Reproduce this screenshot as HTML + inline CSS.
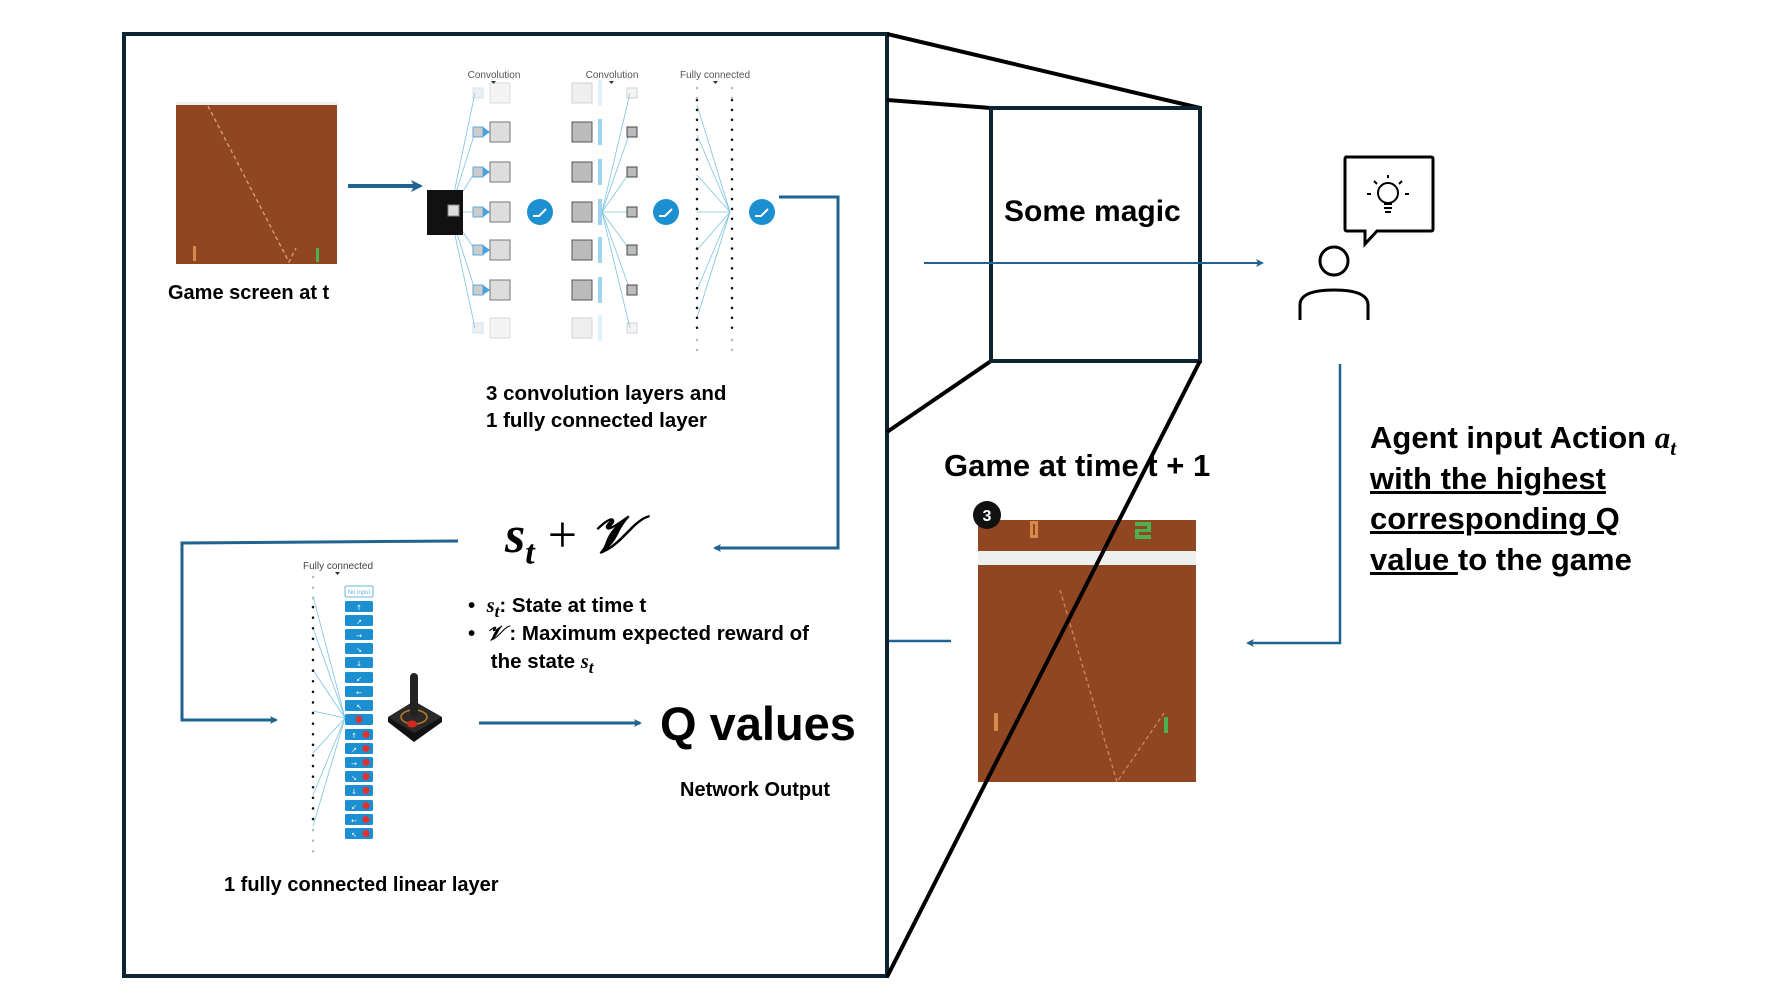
<!DOCTYPE html>
<html><head><meta charset="utf-8"><style>
html,body{margin:0;padding:0;background:#fff;}
body{width:1778px;height:1000px;overflow:hidden;position:relative;font-family:"Liberation Sans",sans-serif;}
.t{position:absolute;white-space:nowrap;color:#000;}
sub{line-height:0;}
</style></head><body>
<svg width="1778" height="1000" style="position:absolute;left:0;top:0" xmlns="http://www.w3.org/2000/svg">
<defs>
<marker id="ah" markerWidth="8" markerHeight="8" refX="6" refY="4" orient="auto" markerUnits="userSpaceOnUse"><path d="M0,0 L8,4 L0,8 L2,4 Z" fill="#1f6390"/></marker>
<marker id="ah2" markerWidth="12" markerHeight="12" refX="9" refY="6" orient="auto" markerUnits="userSpaceOnUse"><path d="M0,0 L12,6 L0,12 L3,6 Z" fill="#1f6390"/></marker>
</defs>
<!-- main box -->
<rect x="124" y="34" width="763" height="942" fill="none" stroke="#0d2433" stroke-width="4"/>
<g transform="translate(-6,0)">
<g stroke="#000" stroke-width="4" fill="none">
<line x1="893" y1="34" x2="1206" y2="108"/>
<line x1="893" y1="100" x2="997" y2="108"/>
<line x1="997" y1="361" x2="893" y2="432"/>
</g>
<rect x="997" y="108" width="209" height="253" fill="none" stroke="#0d2433" stroke-width="4"/>
<line x1="930" y1="263" x2="1268" y2="263" stroke="#1f6390" stroke-width="2" marker-end="url(#ah)"/>
<polyline points="1346,364 1346,643 1254,643" fill="none" stroke="#1f6390" stroke-width="2.5" marker-end="url(#ah)"/>
<line x1="895" y1="641" x2="957" y2="641" stroke="#1f6390" stroke-width="2.5"/>
<!-- speech bubble & person -->
<path d="M1351,157 H1437 Q1439,157 1439,159 V229 Q1439,231 1437,231 H1383 L1371,244 L1371,231 H1353 Q1351,231 1351,229 V159 Q1351,157 1353,157Z" fill="#fff" stroke="#000" stroke-width="3"/>
<circle cx="1394" cy="193" r="10" fill="none" stroke="#000" stroke-width="2"/>
<g stroke="#000" stroke-width="2"><line x1="1390" y1="204" x2="1398" y2="204"/><line x1="1390" y1="208" x2="1398" y2="208"/><line x1="1391" y1="212" x2="1397" y2="212"/><line x1="1394" y1="175" x2="1394" y2="178"/><line x1="1380" y1="181" x2="1383" y2="184"/><line x1="1408" y1="181" x2="1405" y2="184"/><line x1="1373" y1="194" x2="1377" y2="194"/><line x1="1411" y1="194" x2="1415" y2="194"/></g>
<circle cx="1340" cy="261" r="14" fill="none" stroke="#000" stroke-width="3"/>
<path d="M1306,320 V305 Q1306,290 1340,290 Q1374,290 1374,305 V320" fill="none" stroke="#000" stroke-width="3"/>
<!-- game t+1 -->
<rect x="984" y="520" width="218" height="31" fill="#8f4621"/>
<rect x="984" y="551" width="218" height="14" fill="#eef0f0"/>
<rect x="984" y="565" width="218" height="217" fill="#8f4621"/>
<path d="M1036,521 h8 v17 h-8z M1039,524 v11 h2 v-11z" fill="#d98a4a" fill-rule="evenodd"/>
<path d="M1141,522 h16 v10 h-12 v3 h12 v4 h-16 v-10 h12 v-3 h-12z" fill="#4cb04c"/>
<path d="M1066,590 L1123,782 L1170,713" stroke="#c98a5e" stroke-width="1.3" stroke-dasharray="4,3" fill="none"/>
<rect x="1000" y="713" width="4" height="18" fill="#d98a4a"/>
<rect x="1170" y="717" width="4" height="16" fill="#4cb04c"/>
<line x1="1206" y1="361" x2="893" y2="977" stroke="#000" stroke-width="4"/>
<circle cx="993" cy="515" r="14" fill="#111"/>
<text x="993" y="521" font-size="16" font-weight="bold" fill="#fff" text-anchor="middle" font-family="Liberation Sans">3</text>
</g>

<!-- game screen t -->
<rect x="176" y="104" width="161" height="160" fill="#8f4621"/>
<rect x="176" y="102" width="161" height="3" fill="#eee"/>
<path d="M208,106 L289,262 L296,248" stroke="#d9a27a" stroke-width="1.3" stroke-dasharray="4,3" fill="none"/>
<rect x="193" y="246" width="3" height="15" fill="#d98a4a"/>
<rect x="316" y="248" width="3" height="14" fill="#4cb04c"/>
<line x1="348" y1="186" x2="420" y2="186" stroke="#1f6390" stroke-width="4" marker-end="url(#ah2)"/>

<!-- CNN -->
<g font-family="Liberation Sans" font-size="10" fill="#555" text-anchor="middle">
<text x="494" y="78">Convolution</text><text x="612" y="78">Convolution</text><text x="715" y="78">Fully connected</text>
</g>
<g fill="#333"><path d="M491,81 h5 l-2.5,3z"/><path d="M609,81 h5 l-2.5,3z"/><path d="M713,81 h5 l-2.5,3z"/></g>
<g stroke="#7cc3e0" stroke-width="0.8" fill="none">
<line x1="450" y1="212" x2="475" y2="93"/><line x1="450" y1="212" x2="475" y2="132"/><line x1="450" y1="212" x2="475" y2="172"/><line x1="450" y1="212" x2="475" y2="212"/><line x1="450" y1="212" x2="475" y2="250"/><line x1="450" y1="212" x2="475" y2="290"/><line x1="450" y1="212" x2="475" y2="328"/>
<line x1="602" y1="212" x2="630" y2="93"/><line x1="602" y1="212" x2="630" y2="132"/><line x1="602" y1="212" x2="630" y2="172"/><line x1="602" y1="212" x2="630" y2="212"/><line x1="602" y1="212" x2="630" y2="250"/><line x1="602" y1="212" x2="630" y2="290"/><line x1="602" y1="212" x2="630" y2="328"/>
<line x1="730" y1="212" x2="697" y2="105"/><line x1="730" y1="212" x2="697" y2="135"/><line x1="730" y1="212" x2="697" y2="175"/><line x1="730" y1="212" x2="697" y2="212"/><line x1="730" y1="212" x2="697" y2="250"/><line x1="730" y1="212" x2="697" y2="290"/><line x1="730" y1="212" x2="697" y2="318"/>
</g>
<rect x="427" y="190" width="36" height="45" fill="#111"/>
<rect x="448" y="205" width="11" height="11" fill="#ddd" stroke="#888"/>
<g>
<g opacity="0.3"><rect x="473" y="88" width="10" height="10" fill="#ccc" stroke="#5aa9dd"/><rect x="490" y="83" width="20" height="20" fill="#ddd" stroke="#888"/><rect x="572" y="83" width="20" height="20" fill="#ccc" stroke="#666"/><rect x="598" y="80" width="4" height="26" fill="#9fd3ee"/><rect x="627" y="88" width="10" height="10" fill="#ddd" stroke="#666"/></g>
<g><rect x="473" y="127" width="10" height="10" fill="#ccc" stroke="#5aa9dd"/><path d="M483,127 L490,132 L483,137z" fill="#4aa3e0"/><rect x="490" y="122" width="20" height="20" fill="#ddd" stroke="#777"/><rect x="572" y="122" width="20" height="20" fill="#bbb" stroke="#555"/><rect x="598" y="119" width="4" height="26" fill="#9fd3ee"/><rect x="627" y="127" width="10" height="10" fill="#bbb" stroke="#444"/></g>
<g><rect x="473" y="167" width="10" height="10" fill="#ccc" stroke="#5aa9dd"/><path d="M483,167 L490,172 L483,177z" fill="#4aa3e0"/><rect x="490" y="162" width="20" height="20" fill="#ddd" stroke="#777"/><rect x="572" y="162" width="20" height="20" fill="#bbb" stroke="#555"/><rect x="598" y="159" width="4" height="26" fill="#9fd3ee"/><rect x="627" y="167" width="10" height="10" fill="#bbb" stroke="#444"/></g>
<g><rect x="473" y="207" width="10" height="10" fill="#ccc" stroke="#5aa9dd"/><path d="M483,207 L490,212 L483,217z" fill="#4aa3e0"/><rect x="490" y="202" width="20" height="20" fill="#ddd" stroke="#777"/><rect x="572" y="202" width="20" height="20" fill="#bbb" stroke="#555"/><rect x="598" y="199" width="4" height="26" fill="#9fd3ee"/><rect x="627" y="207" width="10" height="10" fill="#bbb" stroke="#444"/></g>
<g><rect x="473" y="245" width="10" height="10" fill="#ccc" stroke="#5aa9dd"/><path d="M483,245 L490,250 L483,255z" fill="#4aa3e0"/><rect x="490" y="240" width="20" height="20" fill="#ddd" stroke="#777"/><rect x="572" y="240" width="20" height="20" fill="#bbb" stroke="#555"/><rect x="598" y="237" width="4" height="26" fill="#9fd3ee"/><rect x="627" y="245" width="10" height="10" fill="#bbb" stroke="#444"/></g>
<g><rect x="473" y="285" width="10" height="10" fill="#ccc" stroke="#5aa9dd"/><path d="M483,285 L490,290 L483,295z" fill="#4aa3e0"/><rect x="490" y="280" width="20" height="20" fill="#ddd" stroke="#777"/><rect x="572" y="280" width="20" height="20" fill="#bbb" stroke="#555"/><rect x="598" y="277" width="4" height="26" fill="#9fd3ee"/><rect x="627" y="285" width="10" height="10" fill="#bbb" stroke="#444"/></g>
<g opacity="0.3"><rect x="473" y="323" width="10" height="10" fill="#ccc" stroke="#5aa9dd"/><rect x="490" y="318" width="20" height="20" fill="#ddd" stroke="#888"/><rect x="572" y="318" width="20" height="20" fill="#ccc" stroke="#666"/><rect x="598" y="315" width="4" height="26" fill="#9fd3ee"/><rect x="627" y="323" width="10" height="10" fill="#ddd" stroke="#666"/></g>
</g>
<g fill="#1b8fd0"><circle cx="540" cy="212" r="13"/><circle cx="666" cy="212" r="13"/><circle cx="762" cy="212" r="13"/></g>
<g stroke="#fff" stroke-width="2" fill="none"><path d="M533,216 h6 l7,-7"/><path d="M659,216 h6 l7,-7"/><path d="M755,216 h6 l7,-7"/></g>
<g stroke="#111" stroke-width="2.5" stroke-dasharray="0.1,9.8" stroke-linecap="round">
<line x1="697" y1="100" x2="697" y2="335"/><line x1="732" y1="100" x2="732" y2="335"/>
</g>
<g stroke="#bbb" stroke-width="2.5" stroke-dasharray="0.1,9.8" stroke-linecap="round">
<line x1="697" y1="88" x2="697" y2="98"/><line x1="732" y1="88" x2="732" y2="98"/><line x1="697" y1="340" x2="697" y2="352"/><line x1="732" y1="340" x2="732" y2="352"/>
</g>

<!-- connectors -->
<polyline points="779,197 838,197 838,548 715,548" fill="none" stroke="#1f6390" stroke-width="3" marker-end="url(#ah)"/>
<polyline points="458,541 182,543 182,720 276,720" fill="none" stroke="#1f6390" stroke-width="3" marker-end="url(#ah)"/>
<line x1="479" y1="723" x2="640" y2="723" stroke="#1f6390" stroke-width="3" marker-end="url(#ah)"/>

<!-- FC2 -->
<text x="338" y="569" font-family="Liberation Sans" font-size="10" fill="#444" text-anchor="middle">Fully connected</text>
<path d="M335,572 h5 l-2.5,3z" fill="#333"/>
<g stroke="#7cc3e0" stroke-width="0.8">
<line x1="345" y1="718" x2="313" y2="596"/><line x1="345" y1="718" x2="313" y2="628"/><line x1="345" y1="718" x2="313" y2="670"/><line x1="345" y1="718" x2="313" y2="711"/><line x1="345" y1="718" x2="313" y2="753"/><line x1="345" y1="718" x2="313" y2="795"/><line x1="345" y1="718" x2="313" y2="826"/>
</g>
<g stroke="#111" stroke-width="2.5" stroke-dasharray="0.1,10.5" stroke-linecap="round"><line x1="313" y1="607" x2="313" y2="820"/></g>
<g stroke="#bbb" stroke-width="2.5" stroke-dasharray="0.1,10.5" stroke-linecap="round"><line x1="313" y1="577" x2="313" y2="600"/><line x1="313" y1="830" x2="313" y2="858"/></g>
<rect x="345" y="586" width="28" height="11" rx="1.5" fill="#fff" stroke="#69b6e3"/>
<text x="359" y="594" font-size="6" fill="#69b6e3" text-anchor="middle" font-family="Liberation Sans">No input</text>
<g fill="#1b8fd0">
<rect x="345" y="601" width="28" height="11" rx="1.5"/><rect x="345" y="615" width="28" height="11" rx="1.5"/><rect x="345" y="629" width="28" height="11" rx="1.5"/><rect x="345" y="643" width="28" height="11" rx="1.5"/><rect x="345" y="657" width="28" height="11" rx="1.5"/><rect x="345" y="672" width="28" height="11" rx="1.5"/><rect x="345" y="686" width="28" height="11" rx="1.5"/><rect x="345" y="700" width="28" height="11" rx="1.5"/><rect x="345" y="714" width="28" height="11" rx="1.5"/><rect x="345" y="729" width="28" height="11" rx="1.5"/><rect x="345" y="743" width="28" height="11" rx="1.5"/><rect x="345" y="757" width="28" height="11" rx="1.5"/><rect x="345" y="771" width="28" height="11" rx="1.5"/><rect x="345" y="785" width="28" height="11" rx="1.5"/><rect x="345" y="800" width="28" height="11" rx="1.5"/><rect x="345" y="814" width="28" height="11" rx="1.5"/><rect x="345" y="828" width="28" height="11" rx="1.5"/>
</g>
<g fill="#e53030"><circle cx="359" cy="719.5" r="3.5"/><circle cx="366" cy="734.5" r="3.5"/><circle cx="366" cy="748.5" r="3.5"/><circle cx="366" cy="762.5" r="3.5"/><circle cx="366" cy="776.5" r="3.5"/><circle cx="366" cy="790.5" r="3.5"/><circle cx="366" cy="805.5" r="3.5"/><circle cx="366" cy="819.5" r="3.5"/><circle cx="366" cy="833.5" r="3.5"/></g>
<g fill="#fff" font-size="7" font-family="DejaVu Sans" text-anchor="middle">
<text x="359" y="610">↑</text><text x="359" y="624">↗</text><text x="359" y="638">→</text><text x="359" y="652">↘</text><text x="359" y="666">↓</text><text x="359" y="681">↙</text><text x="359" y="695">←</text><text x="359" y="709">↖</text>
<text x="354" y="738">↑</text><text x="354" y="752">↗</text><text x="354" y="766">→</text><text x="354" y="780">↘</text><text x="354" y="794">↓</text><text x="354" y="809">↙</text><text x="354" y="823">←</text><text x="354" y="837">↖</text>
</g>
<!-- joystick -->
<path d="M388,717 L414,701 L442,717 L414,741 Z" fill="#2a2a2a"/>
<path d="M388,717 L414,733 L442,717 L442,722 L414,742 L388,722Z" fill="#111"/>
<ellipse cx="414" cy="717" rx="13" ry="7" fill="none" stroke="#c07a20" stroke-width="1.5"/>
<rect x="410" y="673" width="8" height="44" rx="4" fill="#222"/>
<ellipse cx="412" cy="724" rx="5" ry="3.5" fill="#d42a1a"/>
</svg>

<div class="t" style="left:168px;top:282px;font-size:20px;font-weight:bold;">Game screen at t</div>
<div class="t" style="left:486px;top:380px;font-size:20.5px;line-height:27px;font-weight:bold;">3 convolution layers and<br>1 fully connected layer</div>
<div class="t" style="left:505px;top:506px;font-size:52px;font-weight:bold;font-style:italic;font-family:'Liberation Serif',serif;">s<sub style="font-size:34px;">t</sub><span style="font-style:normal;font-weight:normal;"> + </span>𝒱</div>
<div class="t" style="left:468px;top:592px;font-size:20.5px;line-height:27px;font-weight:bold;">•&nbsp;&nbsp;<i style="font-family:'Liberation Serif',serif;">s<sub>t</sub></i>: State at time t<br>•&nbsp;&nbsp;<i style="font-family:'Liberation Serif',serif;">𝒱</i> : Maximum expected reward of<br>&nbsp;&nbsp;&nbsp;&nbsp;the state <i style="font-family:'Liberation Serif',serif;">s<sub>t</sub></i></div>
<div class="t" style="left:660px;top:696px;font-size:47px;font-weight:bold;">Q values</div>
<div class="t" style="left:680px;top:779px;font-size:20px;font-weight:bold;">Network Output</div>
<div class="t" style="left:224px;top:874px;font-size:20px;font-weight:bold;">1 fully connected linear layer</div>
<div class="t" style="left:1004px;top:195px;font-size:30px;font-weight:bold;">Some magic</div>
<div class="t" style="left:944px;top:448px;font-size:31px;font-weight:bold;">Game at time t + 1</div>
<div class="t" style="left:1370px;top:418px;font-size:31px;line-height:40.5px;font-weight:bold;">Agent input Action <i style="font-family:'Liberation Serif',serif;">a<sub style="font-size:21px">t</sub></i><br><u>with the highest</u><br><u>corresponding Q</u><br><u>value </u>to the game</div>
</body></html>
